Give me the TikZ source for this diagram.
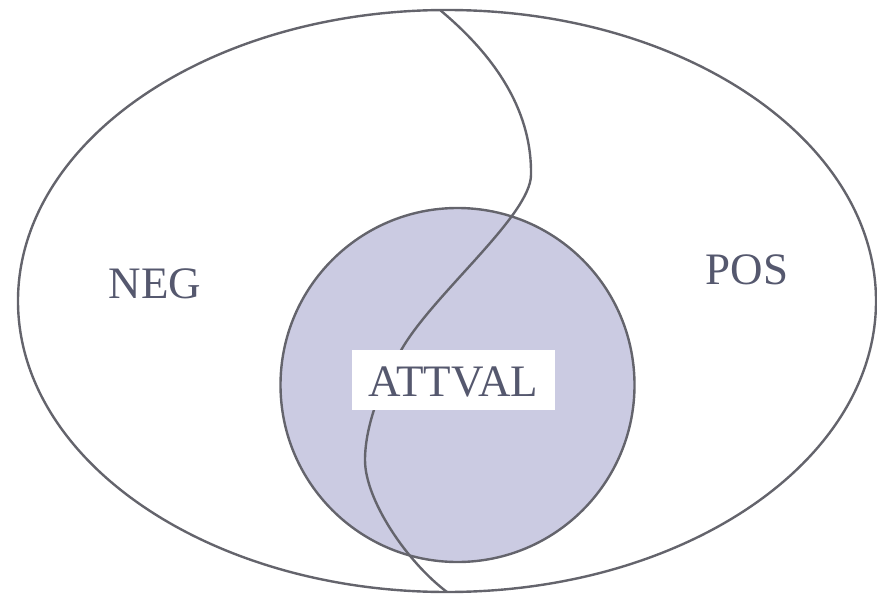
\documentclass[tikz,border=0pt]{standalone}
\usepackage{fontspec}
\setmainfont{Liberation Serif}
\definecolor{linegray}{RGB}{100,100,108}
\definecolor{txtcol}{RGB}{85,88,110}
\definecolor{fillcol}{RGB}{203,203,226}
\begin{document}
\begin{tikzpicture}[x=1pt,y=-1pt,
  outline/.style={draw=linegray,line width=2.4pt},
  lbl/.style={text=txtcol,font=\fontsize{45}{54}\selectfont,inner sep=0pt}]
\useasboundingbox (0,0) rectangle (877,596);
\draw[outline] (447,301) ellipse [x radius=429, y radius=291];
\node[circle,outline,fill=fillcol,minimum size=354pt,inner sep=0pt] (att) at (457.5,385) {};
\coordinate (s0) at (440,10);
\coordinate (s1) at (531,175);
\coordinate (s2) at (403,347);
\coordinate (s3) at (365,460);
\coordinate (s4) at (447,592);
\draw[outline] (s0) .. controls (500,60) and (532,115) .. (s1)
  .. controls (530.5,215) and (436,292) .. (s2)
  .. controls (382,382) and (365,425) .. (s3)
  .. controls (365,500) and (407,562) .. (s4);
\node[fill=white,minimum width=203pt,minimum height=60pt,inner sep=0pt] (box) at (453.5,380) {};
\node[lbl] (attval) at (453.5,382) {ATTVAL};
\node[lbl] (neg) at (155,284) {NEG};
\node[lbl] (pos) at (747,270) {POS};
\end{tikzpicture}
\end{document}
